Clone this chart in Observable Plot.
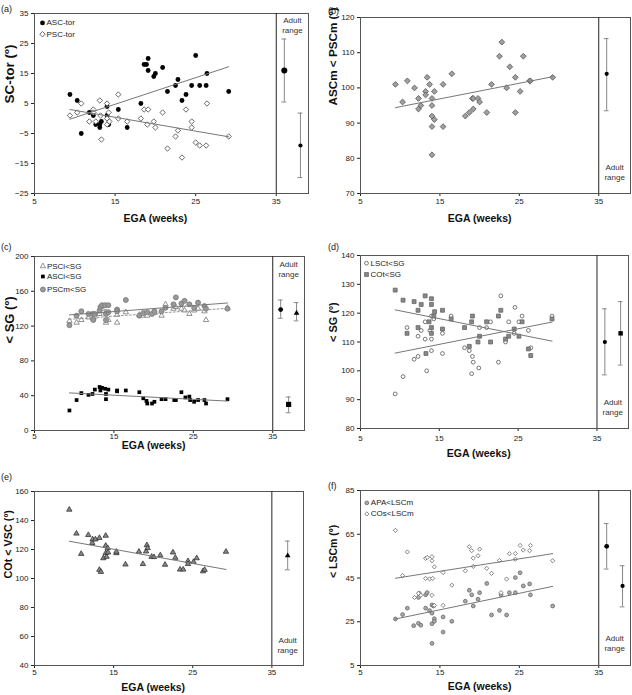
<!DOCTYPE html>
<html>
<head>
<meta charset="utf-8">
<script src="https://cdn.jsdelivr.net/npm/d3@7"></script>
<script src="https://cdn.jsdelivr.net/npm/@observablehq/plot@0.6"></script>
<style>
  html, body { margin: 0; padding: 0; background: #fff; }
  #wrap { position: relative; width: 632px; height: 695px; overflow: hidden; font-family: 'Liberation Sans', Arial, Helvetica, sans-serif; }
  .panel { position: absolute; }
  .plabel { position: absolute; font-size: 9px; color: #222; line-height: 1; }
</style>
</head>
<body>
<div id="wrap"></div>
<script>
// ---------- DATA (EGA weeks, angle degrees) ----------
const egaTicks = [5, 15, 25, 35];
const egaDomain = [5, 39];
const adultDivider = 35;

// (a)
const ascTor = [[9.4,8],[10.3,6],[10.8,-5],[11.8,2],[12.3,1],[12.6,-2],[13.1,-3],[13.1,-2],[13.3,-1],[14.0,4],[14.0,1],[14.2,-2],[15.4,3],[16.5,-3],[18.2,5],[18.6,18],[18.9,18],[19.1,20],[19.1,16],[19.8,14],[20.0,15],[20.9,17],[21.5,9],[22.5,11],[22.8,13],[23.3,6],[23.8,8],[24.5,11],[25.0,21],[25.5,11],[26.3,11],[26.4,15],[29.1,9]];
const pscTor = [[9.4,1],[10.3,2],[10.8,5],[11.8,-1],[12.3,3],[12.3,2],[12.6,-1],[13.1,6],[13.2,1],[13.3,-7],[14.0,5],[14.0,0],[14.0,-2],[14.2,2],[14.3,-1],[15.4,8],[15.4,0],[16.5,-1],[18.2,0],[18.6,3],[19.0,-2],[19.1,3],[19.8,-1],[20.0,-3],[20.9,2],[21.5,-10],[22.5,-6],[22.8,-4],[23.3,-13],[23.8,3],[24.5,-1],[24.5,-3],[25.0,-8],[25.5,-9],[26.3,-9],[26.4,5],[29.1,-6]];
const adultA = [{ega:36, mean:16, lo:5.5, hi:26.5}, {ega:38, mean:-9, lo:-19.7, hi:1.8}];

// (b)
const ascmPscm = [[9.4,101],[10.3,96],[10.9,102],[11.8,100],[12.3,97],[12.3,94],[12.6,95],[13.2,99],[13.2,98],[13.4,103],[13.7,101],[14.0,97],[14.0,95],[14.0,92],[14.0,89],[14.0,81],[14.3,99],[14.3,91],[15.4,101],[15.4,89],[16.5,104],[18.2,92],[18.7,93],[19.1,97],[19.2,94],[19.2,97],[19.8,97],[20.0,96],[20.9,93],[21.5,101],[22.5,109],[22.8,113],[23.4,100],[23.8,106],[24.5,103],[24.5,93],[25.1,99],[25.5,109],[26.3,102],[26.4,102],[29.2,103]];
const adultB = [{ega:36, mean:104, lo:93.5, hi:114}];

// (c)
const psciSg = [[9.4,126],[10.3,124],[10.9,127],[11.8,130],[12.4,129],[12.6,131],[13.2,134],[13.5,140],[14.0,124],[14.0,136],[14.3,127],[15.4,124],[15.4,133],[16.5,136],[18.2,133],[18.7,132],[19.2,132],[20.1,135],[21.0,132],[21.5,145],[22.5,140],[22.8,142],[23.5,140],[23.9,138],[24.5,134],[25.1,138],[25.6,140],[26.4,137],[26.6,127],[29.3,141]];
const asciSg = [[9.4,23],[10.3,35],[10.9,43],[11.8,41],[12.3,42],[12.6,47],[13.2,50],[13.3,46],[13.5,49],[13.9,48],[14.0,36],[14.0,42],[14.3,47],[15.4,45],[15.4,46],[16.5,46],[18.2,44],[18.7,37],[19.1,34],[19.2,31],[19.8,31],[20.1,33],[21.0,36],[21.5,36],[22.6,35],[22.8,35],[23.5,44],[24.0,38],[24.5,39],[24.6,35],[25.1,33],[25.6,35],[26.4,35],[26.6,31],[29.3,36]];
const pscmSg = [[9.4,121],[10.3,132],[10.9,137],[11.8,134],[12.3,134],[12.4,127],[12.6,134],[13.2,138],[13.3,142],[13.5,144],[13.9,144],[14.0,134],[14.0,127],[14.3,144],[14.3,136],[15.4,139],[15.4,137],[16.5,150],[18.2,132],[18.7,135],[19.2,136],[19.8,134],[20.1,137],[21.0,137],[21.5,141],[22.5,145],[22.8,153],[23.5,146],[23.9,149],[24.5,145],[25.1,141],[25.6,147],[26.4,143],[26.6,140],[29.3,140]];
const adultC = [{ega:36, mean:139, lo:129, hi:150}, {ega:37, mean:30, lo:20.4, hi:38.5}, {ega:38, mean:135, lo:126, hi:147}];

// (d)
const lsctSg = [[9.4,92],[10.4,98],[10.9,115],[11.8,104],[12.3,105],[12.3,112],[12.7,114],[13.2,111],[13.2,117],[13.4,100],[13.8,114],[14.0,107],[14.0,111],[14.0,119],[14.3,118],[15.4,106],[15.4,113],[16.5,119],[18.2,108],[18.8,107],[19.1,99],[19.2,105],[19.3,103],[20.0,101],[20.1,115],[21.0,115],[21.5,117],[22.5,103],[22.8,126],[23.4,110],[23.8,117],[24.5,113],[24.6,122],[25.1,117],[25.5,119],[26.3,114],[26.6,108],[29.3,119]];
const cotSg = [[9.4,128],[10.4,124.5],[10.9,113],[11.8,124],[12.3,121],[12.3,115],[12.7,123],[13.2,126],[13.3,106],[13.7,117],[14.0,125],[14.0,123],[14.0,115],[14.0,113],[14.3,119],[14.4,120.5],[15.4,121],[15.4,114.5],[16.5,118],[18.2,115],[18.8,108.5],[19.1,117],[19.2,119],[19.9,110],[20.1,112],[21.0,117],[21.5,110],[22.5,119],[22.8,121],[23.4,111],[23.8,112],[24.5,114.5],[25.1,112],[25.5,117],[26.3,107.6],[26.6,105.3],[29.3,118]];
const adultD = [{ega:36, mean:110, lo:98.6, hi:121.5}, {ega:38, mean:113, lo:102, hi:124}];

// (e)
const cotVsc = [[9.4,147.5],[10.3,131],[10.9,117],[11.8,130],[12.3,124.5],[12.35,127],[12.7,127],[13.2,128],[13.2,106],[13.4,104.6],[13.7,114],[14.0,129.5],[14.0,122.6],[14.0,117.5],[14.1,115],[14.25,121],[14.3,118],[15.35,117.5],[15.35,118.5],[16.5,109.7],[18.2,118.5],[18.7,110],[19.1,118.7],[19.2,123],[19.3,121],[19.8,115],[20.1,114.8],[20.9,116],[21.5,109.5],[22.5,118],[22.8,114.3],[23.4,106.2],[23.8,106.2],[24.4,112],[24.4,110],[25.1,111.5],[25.5,114],[26.3,105],[26.5,106],[29.2,118.5]];
const adultE = [{ega:37, mean:115.7, lo:106, hi:125.8}];

// (f)
const apaLscm = [[9.4,26.3],[10.3,28.3],[10.9,31.2],[11.7,23.2],[12.3,24.3],[12.3,36.1],[12.4,38],[12.6,23.4],[13.2,37.3],[13.2,31.2],[13.4,38.3],[13.7,30.1],[14.0,24.1],[14.0,15.1],[14.0,28.9],[14.0,32.7],[14.2,32.2],[14.3,26.4],[14.3,25.2],[15.4,20.3],[15.4,27.2],[16.5,25.2],[18.2,34.4],[18.7,39.4],[19.0,37.3],[19.2,32.2],[19.8,35.3],[20.0,38.3],[20.9,42.5],[21.5,28.1],[22.5,30.2],[22.7,37.3],[23.4,28.1],[23.75,38.3],[24.5,45.2],[24.5,38.3],[25.1,47.4],[25.5,41.4],[26.3,42.3],[26.4,37.3],[29.2,32.2]];
const cosLscm = [[9.4,66.8],[10.3,46.1],[10.9,56.9],[11.8,36.1],[12.3,38],[12.6,37.1],[13.2,54],[13.2,44.8],[13.4,54.4],[13.7,44.6],[14.0,54.7],[14.0,52.9],[14.0,37.1],[14.1,44.8],[14.3,50.1],[14.3,32.5],[15.4,47.5],[15.4,32.5],[16.5,41.7],[18.2,48.3],[18.7,59.3],[19.0,57.5],[19.2,54.1],[19.2,50.3],[19.8,55.2],[20.0,58.2],[20.9,49.4],[21.5,47.1],[22.5,53],[22.7,38.3],[23.4,44.5],[23.75,56.1],[24.5,56.2],[24.5,53.6],[25.1,59.9],[25.5,57.8],[26.3,57.5],[26.4,59.9],[29.2,52.9]];
const adultF = [{ega:36, mean:59.5, lo:49.1, hi:69.9}, {ega:38, mean:41.4, lo:31.8, hi:50.6}];

// ---------- STYLES ----------
const FONT = "'Liberation Sans', Arial, Helvetica, sans-serif";
// square-proportioned diamond (r = half diagonal)
const rhombus = {
  draw(ctx, size) {
    const h = Math.sqrt(size / Math.PI);
    ctx.moveTo(0, -h); ctx.lineTo(h, 0); ctx.lineTo(0, h); ctx.lineTo(-h, 0); ctx.closePath();
  }
};
const S = {
  blackDot: {symbol:"circle", fill:"#000", stroke:"none", r:2.4},
  openDiamond: {symbol:rhombus, fill:"#fff", stroke:"#444", strokeWidth:0.8, r:2.7},
  grayDiamond: {symbol:rhombus, fill:"#a0a0a0", stroke:"#555", strokeWidth:0.8, r:2.9},
  openTri: {symbol:"triangle", fill:"#fff", stroke:"#777", strokeWidth:0.8, r:2},
  blackSq: {symbol:"square", fill:"#000", stroke:"none", r:2.1},
  grayCircle: {symbol:"circle", fill:"#999", stroke:"#777", strokeWidth:0.8, r:2.5},
  openCircle: {symbol:"circle", fill:"#fff", stroke:"#555", strokeWidth:0.8, r:1.9},
  graySq: {symbol:"square", fill:"#888", stroke:"#666", strokeWidth:0.8, r:2.2},
  grayTri: {symbol:"triangle", fill:"#888", stroke:"#333", strokeWidth:0.8, r:2},
  smallGrayCircle: {symbol:"circle", fill:"#aaa", stroke:"#666", strokeWidth:0.8, r:1.9},
  smallOpenDiamond: {symbol:rhombus, fill:"#fff", stroke:"#666", strokeWidth:0.8, r:2.1},
  adultBig: {symbol:"circle", fill:"#000", stroke:"none", r:3},
  adultMid: {symbol:"circle", fill:"#000", stroke:"none", r:2.4},
  adultSmall: {symbol:"circle", fill:"#000", stroke:"none", r:2.1},
  adultTri: {symbol:"triangle", fill:"#000", stroke:"none", r:2.1},
  adultSq: {symbol:"square", fill:"#000", stroke:"none", r:2.9},
  adultSqSmall: {symbol:"square", fill:"#000", stroke:"none", r:2.5}
};

const xy = {x: d => d[0], y: d => d[1]};

function panel(cfg) {
  const m = cfg.margin;
  const marks = [
    Plot.frame({stroke: "#555", strokeWidth: 1}),
    Plot.ruleX([adultDivider], {stroke: "#222", strokeWidth: 1})
  ];
  for (const s of cfg.series) {
    marks.push(Plot.dot(s.data, {...xy, ...s.style}));
  }
  for (const s of cfg.series) {
    if (s.trend) marks.push(Plot.linearRegressionY(s.data, {...xy, ci: 0, stroke: s.trendColor || "#777", strokeWidth: 1, strokeDasharray: s.dash || null}));
  }
  // adult range
  marks.push(Plot.ruleX(cfg.adult, {x: "ega", y1: "lo", y2: "hi", stroke: "#888", strokeWidth: 1}));
  marks.push(Plot.ruleY(cfg.adult, {y: "lo", x1: d => d.ega - 0.3, x2: d => d.ega + 0.3, stroke: "#888"}));
  marks.push(Plot.ruleY(cfg.adult, {y: "hi", x1: d => d.ega - 0.3, x2: d => d.ega + 0.3, stroke: "#888"}));
  cfg.adult.forEach((d, i) => marks.push(Plot.dot([d], {x: "ega", y: "mean", ...cfg.adultStyles[i]})));
  marks.push(Plot.text(["Adult\nrange"], {
    x: (adultDivider + egaDomain[1]) / 2, frameAnchor: cfg.adultTextAt, text: d => d,
    lineAnchor: cfg.adultTextAt, dy: cfg.adultTextDy, lineHeight: 1.25, fontSize: 8, fill: "#333"
  }));
  // legend
  (cfg.legend || []).forEach(l => {
    marks.push(Plot.dot([l.label], {frameAnchor: "top-left", dx: cfg.legendDx, dy: l.dy, ...l.style}));
    marks.push(Plot.text([l.label], {frameAnchor: "top-left", dx: cfg.legendDx + 4, dy: l.dy, text: d => d, textAnchor: "start", lineAnchor: "middle", fontSize: 8, fill: "#222"}));
  });
  // axis titles
  marks.push(Plot.text([cfg.yTitle], {frameAnchor: "left", rotate: -90, dx: cfg.yTitleDx, text: d => d, fontWeight: "bold", fontSize: cfg.yTitleSize, fill: "#111"}));
  marks.push(Plot.text(["EGA (weeks)"], {x: (egaTicks[0] + adultDivider) / 2, frameAnchor: "bottom", lineAnchor: "middle", dy: cfg.xTitleDy, text: d => d, fontWeight: "bold", fontSize: 10.5, fill: "#111"}));

  const svg = Plot.plot({
    width: 316, height: cfg.height,
    marginTop: m.t, marginRight: m.r, marginBottom: m.b, marginLeft: m.l,
    style: {fontFamily: FONT, fontSize: "8px", color: "#222", background: "transparent", overflow: "visible"},
    x: {domain: egaDomain, ticks: egaTicks, tickSize: 3, tickPadding: cfg.xPad, label: null, line: true},
    y: {domain: cfg.yDomain, ticks: cfg.yTicks, tickSize: 3, tickPadding: 3, label: null, line: true},
    marks
  });
  const div = document.createElement("div");
  div.className = "panel";
  div.style.left = cfg.left + "px";
  div.style.top = cfg.top + "px";
  div.appendChild(svg);
  document.getElementById("wrap").appendChild(div);
  const lab = document.createElement("div");
  lab.className = "plabel";
  lab.textContent = cfg.tag;
  lab.style.left = cfg.tagPos[0] + "px";
  lab.style.top = cfg.tagPos[1] + "px";
  document.getElementById("wrap").appendChild(lab);
}

panel({
  tag: "(a)", tagPos: [1, 5], left: 0, top: 0, height: 232,
  margin: {t: 13, r: 8, b: 39, l: 34},
  yDomain: [-25, 35], yTicks: [-25, -15, -5, 5, 15, 25, 35], yTitle: "SC-tor (º)",
  yTitleSize: 13.5, yTitleDx: -25,
  xPad: 1.5, xTitleDy: 25.6,
  series: [
    {data: ascTor, style: S.blackDot, trend: true},
    {data: pscTor, style: S.openDiamond, trend: true}
  ],
  adult: adultA, adultStyles: [S.adultBig, S.adultSmall],
  adultTextAt: "top", adultTextDy: 2,
  legendDx: 8, legend: [
    {label: "ASC-tor", style: S.blackDot, dy: 9.4},
    {label: "PSC-tor", style: S.openDiamond, dy: 20.7}
  ]
});

panel({
  tag: "(b)", tagPos: [328, 7], left: 316, top: 0, height: 232,
  margin: {t: 17, r: 2, b: 39, l: 44},
  yDomain: [70, 120], yTicks: [70, 80, 90, 100, 110, 120], yTitle: "ASCm < PSCm (º)",
  yTitleSize: 11.7, yTitleDx: -27,
  xPad: 2, xTitleDy: 25.6,
  series: [{data: ascmPscm, style: S.grayDiamond, trend: true}],
  adult: adultB, adultStyles: [S.adultSmall],
  adultTextAt: "bottom", adultTextDy: -14
});

panel({
  tag: "(c)", tagPos: [1, 243], left: 0, top: 232, height: 232,
  margin: {t: 24, r: 12, b: 34, l: 34},
  yDomain: [0, 200], yTicks: [0, 40, 80, 120, 160, 200], yTitle: "< SG (º)",
  yTitleSize: 13, yTitleDx: -25,
  xPad: 0, xTitleDy: 15.6,
  series: [
    {data: psciSg, style: S.openTri, trend: true, trendColor: "#999", dash: "2,2"},
    {data: pscmSg, style: S.grayCircle, trend: true},
    {data: asciSg, style: S.blackSq, trend: true}
  ],
  adult: adultC, adultStyles: [S.adultMid, S.adultSq, S.adultTri],
  adultTextAt: "top", adultTextDy: 3.4,
  legendDx: 8.4, legend: [
    {label: "PSCi<SG", style: S.openTri, dy: 9.7},
    {label: "ASCi<SG", style: S.blackSq, dy: 20},
    {label: "PSCm<SG", style: S.grayCircle, dy: 33}
  ]
});

panel({
  tag: "(d)", tagPos: [328, 243], left: 316, top: 232, height: 232,
  margin: {t: 23, r: 4, b: 36, l: 44},
  yDomain: [80, 140], yTicks: [80, 90, 100, 110, 120, 130, 140], yTitle: "< SG (º)",
  yTitleSize: 11, yTitleDx: -27,
  xPad: 3.5, xTitleDy: 24.7,
  series: [
    {data: lsctSg, style: S.openCircle, trend: true},
    {data: cotSg, style: S.graySq, trend: true}
  ],
  adult: adultD, adultStyles: [S.adultSmall, S.adultSqSmall],
  adultTextAt: "bottom", adultTextDy: -13.7,
  legendDx: 6, legend: [
    {label: "LSCt<SG", style: S.openCircle, dy: 7.7},
    {label: "COt<SG", style: S.graySq, dy: 19}
  ]
});

panel({
  tag: "(e)", tagPos: [1, 473], left: 0, top: 462, height: 233,
  margin: {t: 29, r: 13, b: 30, l: 34},
  yDomain: [40, 160], yTicks: [40, 60, 80, 100, 120, 140, 160], yTitle: "COt < VSC (º)",
  yTitleSize: 10.8, yTitleDx: -26,
  xPad: 1, xTitleDy: 22.3,
  series: [{data: cotVsc, style: S.grayTri, trend: true}],
  adult: adultE, adultStyles: [S.adultTri],
  adultTextAt: "bottom", adultTextDy: -13
});

panel({
  tag: "(f)", tagPos: [328, 482], left: 316, top: 462, height: 233,
  margin: {t: 28, r: 2, b: 30, l: 44},
  yDomain: [5, 85], yTicks: [5, 25, 45, 65, 85], yTitle: "< LSCm (º)",
  yTitleSize: 10.5, yTitleDx: -27,
  xPad: 1, xTitleDy: 21.6,
  series: [
    {data: apaLscm, style: S.smallGrayCircle, trend: true},
    {data: cosLscm, style: S.smallOpenDiamond, trend: true}
  ],
  adult: adultF, adultStyles: [S.adultMid, S.adultSmall],
  adultTextAt: "bottom", adultTextDy: -15,
  legendDx: 6.3, legend: [
    {label: "APA<LSCm", style: S.smallGrayCircle, dy: 12.4},
    {label: "COs<LSCm", style: S.smallOpenDiamond, dy: 23.4}
  ]
});
</script>
</body>
</html>
